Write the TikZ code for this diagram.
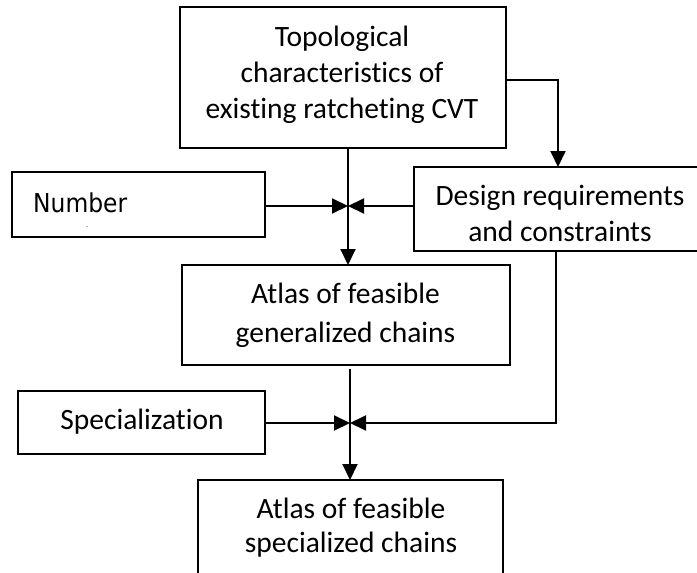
\documentclass[tikz,border=0pt]{standalone}
\usepackage{fontspec}
\setmainfont[Ligatures={NoCommon}]{Carlito}
\newfontfamily\numfont{DejaVu Sans Condensed}
\usetikzlibrary{arrows.meta}
\begin{document}
\begin{tikzpicture}[x=1pt,y=-1pt,
  box/.style={draw, line width=1.5pt, inner sep=0pt, outer sep=0pt},
  txt/.style={font=\fontsize{29.5}{36}\selectfont, align=center, inner sep=0pt},
  conn/.style={line width=2pt, -{Triangle[length=16pt,width=15pt]}}]
\clip (0,0) rectangle (697,573);
\fill[white] (0,0) rectangle (697,573);
% boxes
\node[box, minimum width=326pt, minimum height=141pt] (top) at (343,77.5) {};
\node[box, minimum width=253pt, minimum height=65pt] (num) at (138.5,204.5) {};
\node[box, minimum width=286pt, minimum height=84pt] (des) at (557,209) {};
\node[box, minimum width=328pt, minimum height=100pt] (at1) at (346,315) {};
\node[box, minimum width=247pt, minimum height=63pt] (spec) at (141.5,422.5) {};
\node[box, minimum width=305pt, minimum height=100pt] (at2) at (350.5,530) {};
% texts
\node[txt, font=\fontsize{29.5}{36}\selectfont] (topT) at (342,75) {Topological\\characteristics of\\existing ratcheting CVT};
\node[anchor=base west, inner sep=0pt, font=\numfont\fontsize{26}{30}\selectfont] (numT) at (33,212) {Number};
\node[inner sep=0pt, font=\fontsize{6}{6}\selectfont] (numD) at (87,228) {-};
\node[txt] (desT) at (560,213) {Design requirements\\and constraints};
\node[txt, font=\fontsize{29.5}{39}\selectfont] (at1T) at (345.5,315) {Atlas of feasible\\generalized chains};
\node[txt, anchor=base] (specT) at (142,429) {Specialization};
\node[txt, font=\fontsize{29.5}{34}\selectfont] (at2T) at (351,528) {Atlas of feasible\\specialized chains};
% junctions
\coordinate (j1) at (348,206);
\coordinate (j2) at (350,423);
\coordinate (c1) at (558,80);
\coordinate (c2) at (556,423);
% connectors
\draw[conn] (top.south -| j1) -- (at1.north -| j1);
\draw[conn] (num.east |- j1) -- (j1);
\draw[conn] (des.west |- j1) -- (j1);
\draw[conn] (top.east |- c1) -- (c1) -- (des.north -| c1);
\draw[conn] (at1.south -| j2) ++(0,4) -- (at2.north -| j2);
\draw[conn] (spec.east |- j2) -- (j2);
\draw[conn] (des.south -| c2) -- (c2) -- (j2);
\end{tikzpicture}
\end{document}
